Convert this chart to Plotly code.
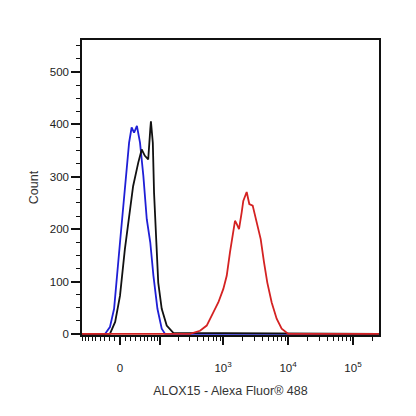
import numpy as np
import plotly.graph_objects as go

# fluorescence intensity (linear units) and counts
unstained_x = [-93, -29, -19, -11, 0, 11, 17, 22, 27, 33, 40, 48, 57, 67, 77, 91, 108, 123, 250000]
unstained_y = [0, 0, 13, 48, 175, 302, 365, 394, 384, 397, 365, 302, 219, 175, 111, 48, 10, 0, 0]

isotype_x = [-93, -19, -9, 0, 9, 19, 25, 36, 44, 52, 61, 67, 69, 75, 79, 87, 94, 108, 131, 168, 250000]
isotype_y = [0, 0, 23, 73, 162, 238, 282, 327, 352, 340, 333, 390, 406, 365, 270, 175, 98, 48, 16, 2, 0]

alox15_x = [-93, 308, 441, 560, 708, 845, 1010, 1139, 1280, 1409, 1528, 1622, 1761, 1937, 2050,
            2312, 2536, 2860, 3103, 3489, 3797, 4269, 4800, 5606, 6687, 7987, 10093, 250000]
alox15_y = [0, 0, 6, 16, 41, 60, 86, 111, 156, 194, 216, 210, 200, 232, 254,
            271, 248, 245, 225, 197, 181, 137, 98, 60, 29, 10, 0, 0]

major_vals = [-100, 0, 100, 1000, 10000, 100000]
major_text = ["", "0", "", "10<sup>3</sup>", "10<sup>4</sup>", "10<sup>5</sup>"]


# biexponential-like display transform (no logicle scale in plotly)
def biex(v, c=52.0):
    return np.arcsinh(np.asarray(v, dtype=float) / c) / np.log(10)


minor_vals = [s * k for s in (-1, 1) for k in range(10, 100, 10)]
for dec in (100, 1000, 10000):
    minor_vals += [k * dec for k in range(2, 10)]
minor_vals += [200000]

font = "Arial, Liberation Sans, sans-serif"

fig = go.Figure()
fig.add_trace(go.Scatter(x=biex(unstained_x), y=unstained_y, mode="lines",
                         line=dict(color="#1f1fd6", width=1.8)))
fig.add_trace(go.Scatter(x=biex(isotype_x), y=isotype_y, mode="lines",
                         line=dict(color="#111111", width=1.8)))
fig.add_trace(go.Scatter(x=biex(alox15_x), y=alox15_y, mode="lines",
                         line=dict(color="#d42222", width=1.8)))

# page body adds ~8px offset, so margins are shifted to compensate
fig.update_layout(
    width=416, height=416,
    margin=dict(l=74, r=45, t=32, b=89),
    showlegend=False,
    plot_bgcolor="white", paper_bgcolor="white",
    font=dict(family=font, size=11.5, color="#222222"),
)
fig.update_xaxes(
    range=[-0.585, 3.985], showgrid=False, zeroline=False,
    showline=True, linecolor="#111111", linewidth=1.5, mirror=True,
    tickmode="array", tickvals=biex(major_vals), ticktext=major_text,
    ticks="outside", ticklen=8, tickwidth=1.5, tickcolor="#111111",
    ticklabelstandoff=13,
    minor=dict(tickmode="array", tickvals=biex(minor_vals), ticks="outside",
               ticklen=4, tickwidth=1, tickcolor="#111111"),
    title=dict(text="ALOX15 - Alexa Fluor® 488", font=dict(size=12.5, color="#333333"),
               standoff=14),
)
fig.update_yaxes(
    range=[-2, 561], showgrid=False, zeroline=False,
    showline=True, linecolor="#111111", linewidth=1.5, mirror=True,
    tickmode="array", tickvals=[0, 100, 200, 300, 400, 500],
    ticks="outside", ticklen=9, tickwidth=2, tickcolor="#111111",
    minor=dict(dtick=25, tick0=0, ticks="outside", ticklen=4, tickwidth=1,
               tickcolor="#111111"),
    title=dict(text="Count", font=dict(size=12.5, color="#333333"), standoff=8),
)

fig.write_html("out.html")
